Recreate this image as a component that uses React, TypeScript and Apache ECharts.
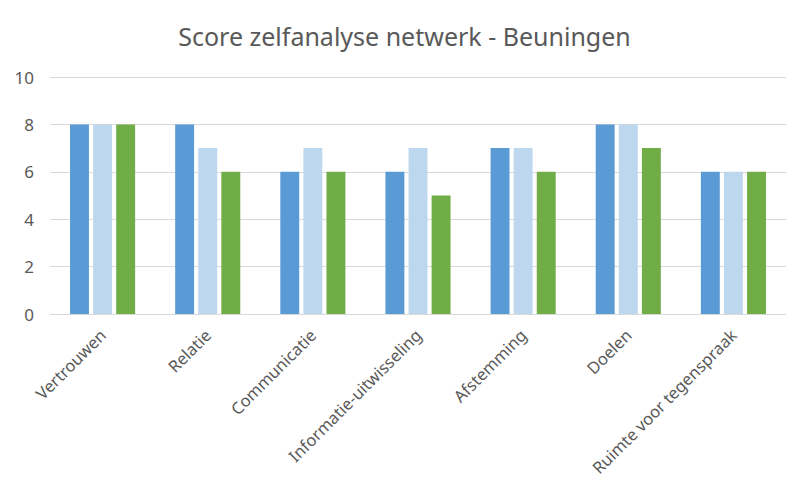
import React, { useEffect, useRef } from "react";
import * as echarts from "echarts";

const categories = [
  "Vertrouwen",
  "Relatie",
  "Communicatie",
  "Informatie-uitwisseling",
  "Afstemming",
  "Doelen",
  "Ruimte voor tegenspraak",
];
const series1 = [8, 8, 6, 6, 7, 8, 6];
const series2 = [8, 7, 7, 7, 7, 8, 6];
const series3 = [8, 6, 6, 5, 6, 7, 6];
const colors = ["#5B9BD5", "#BDD7EE", "#70AD47"];
const titleText = "Score zelfanalyse netwerk - Beuningen";

export default function App() {
  const ref = useRef<HTMLDivElement>(null);
  useEffect(() => {
    const chart = echarts.init(ref.current!, null, { renderer: "svg" });
    const font = "'Noto Sans', 'Open Sans', sans-serif";
    chart.setOption({
      animation: false,
      backgroundColor: "#ffffff",
      title: {
        text: titleText,
        left: "center",
        top: 18,
        textStyle: { color: "#595959", fontSize: 25, fontWeight: "normal", fontFamily: font },
      },
      grid: { left: 50, right: 23, top: 77, bottom: 177, containLabel: false },
      xAxis: {
        type: "category",
        data: categories,
        axisLine: { show: true, lineStyle: { color: "#D9D9D9", width: 1 } },
        axisTick: { show: false },
        axisLabel: {
          rotate: 45,
          interval: 0,
          color: "#595959",
          fontSize: 16.5,
          fontFamily: font,
          margin: 18,
        },
      },
      yAxis: {
        type: "value",
        min: 0,
        max: 10,
        interval: 2,
        axisLine: { show: false },
        axisTick: { show: false },
        splitLine: { lineStyle: { color: "#D9D9D9", width: 1 } },
        axisLabel: { color: "#595959", fontSize: 17, fontFamily: font, margin: 16 },
      },
      series: [series1, series2, series3].map((d, i) => ({
        type: "bar",
        data: d,
        barWidth: "18%",
        barGap: "22%",
        itemStyle: { color: colors[i] },
      })),
    });
    return () => chart.dispose();
  }, []);
  return (
    <div
      ref={ref}
      style={{ position: "absolute", left: 0, top: 0, width: 809, height: 491 }}
    />
  );
}
